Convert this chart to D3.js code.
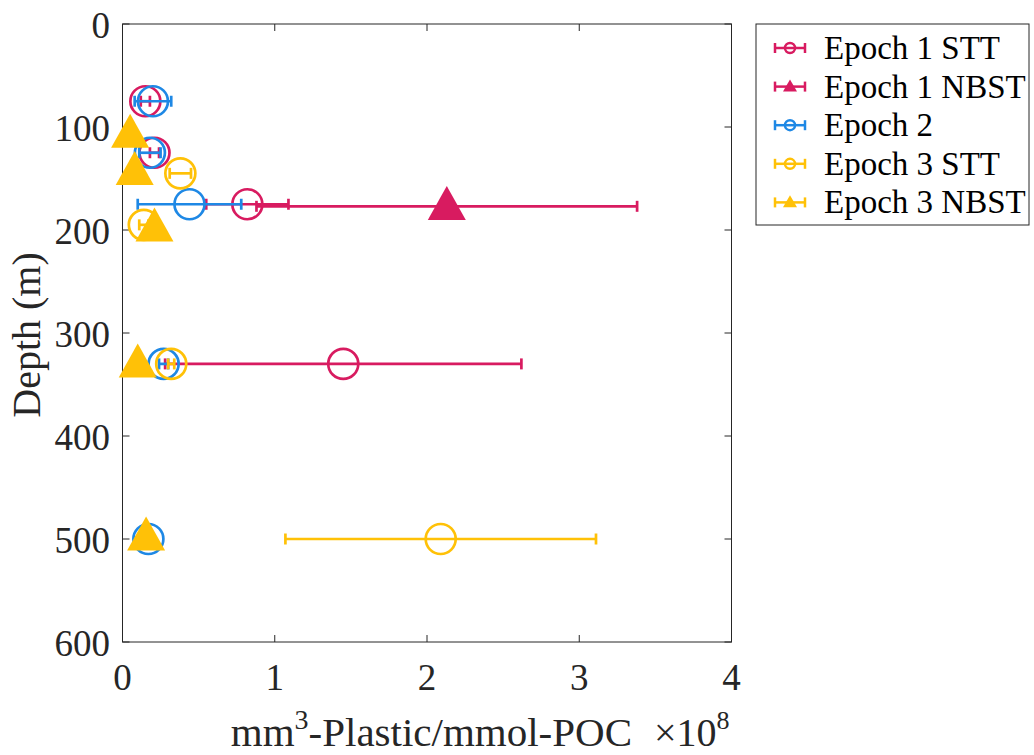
<!DOCTYPE html>
<html>
<head>
<meta charset="utf-8">
<script src="https://cdn.jsdelivr.net/npm/d3@7"></script>
<style>
  body { margin: 0; background: #fff; }
  svg { display: block; font-family: "Liberation Serif", "Times New Roman", serif; }
</style>
</head>
<body>
<svg width="1034" height="755"></svg>
<script>
// значения (x в единицах 1e8, глубина в м)
const seriesNames = ["Epoch 1 STT", "Epoch 1 NBST", "Epoch 2", "Epoch 3 STT", "Epoch 3 NBST"];
const seriesColors = ["#D81B60", "#D81B60", "#1E88E5", "#FFC107", "#FFC107"];
const seriesMarkers = ["circle", "triangle", "circle", "circle", "triangle"];

const e1sttDepth = [75, 125, 175, 330];
const e1sttValue = [0.15, 0.21, 0.82, 1.45];
const e1sttErr = [0.03, 0.03, 0.27, 1.17];

const e1nbstDepth = [177];
const e1nbstValue = [2.13];
const e1nbstErr = [1.25];

const e2Depth = [75, 125, 175, 330, 500];
const e2Value = [0.2, 0.18, 0.44, 0.27, 0.17];
const e2Err = [0.12, 0.07, 0.34, 0.03, 0.02];

const e3sttDepth = [145, 195, 330, 500];
const e3sttValue = [0.38, 0.14, 0.32, 2.09];
const e3sttErr = [0.07, 0.03, 0.02, 1.02];

const e3nbstDepth = [107, 143, 198, 330, 498];
const e3nbstValue = [0.05, 0.08, 0.21, 0.1, 0.155];
const e3nbstErr = [0.01, 0.01, 0.01, 0.01, 0.01];

const xTicks = [0, 1, 2, 3, 4];
const yTicks = [0, 100, 200, 300, 400, 500, 600];

const seriesData = [
    [e1sttDepth, e1sttValue, e1sttErr],
    [e1nbstDepth, e1nbstValue, e1nbstErr],
    [e2Depth, e2Value, e2Err],
    [e3sttDepth, e3sttValue, e3sttErr],
    [e3nbstDepth, e3nbstValue, e3nbstErr]
];

const svg = d3.select("svg");
svg.append("rect").attr("width", 1034).attr("height", 755).attr("fill", "#fff");

const padLeft = 122.5, padRight = 731.5, padTop = 24, padBottom = 642;
const axisColor = "#262626";
const tickFont = 37;

const x = d3.scaleLinear().domain([0, 4]).range([padLeft, padRight]);
const y = d3.scaleLinear().domain([0, 600]).range([padTop, padBottom]);

// треугольник: вершина выше точки, основание ниже
function trianglePath(w, h) {
    return `M0,${-0.6 * h}L${w / 2},${0.4 * h}L${-w / 2},${0.4 * h}Z`;
}

// тики внутрь, как в MATLAB
const tickLen = 7;
const axes = svg.append("g");
xTicks.forEach(t => {
    axes.append("line").attr("x1", x(t)).attr("x2", x(t)).attr("y1", padBottom).attr("y2", padBottom - tickLen);
    axes.append("line").attr("x1", x(t)).attr("x2", x(t)).attr("y1", padTop).attr("y2", padTop + tickLen);
    svg.append("text").attr("x", x(t)).attr("y", 690).attr("text-anchor", "middle")
        .attr("font-size", tickFont).attr("fill", axisColor).text(t);
});
yTicks.forEach(t => {
    axes.append("line").attr("x1", padLeft).attr("x2", padLeft + tickLen).attr("y1", y(t)).attr("y2", y(t));
    axes.append("line").attr("x1", padRight).attr("x2", padRight - tickLen).attr("y1", y(t)).attr("y2", y(t));
    svg.append("text").attr("x", 110).attr("y", y(t) + 14).attr("text-anchor", "end")
        .attr("font-size", tickFont).attr("fill", axisColor).text(t);
});
axes.selectAll("line").attr("stroke", axisColor).attr("stroke-width", 1);
axes.append("rect").attr("x", padLeft).attr("y", padTop).attr("width", padRight - padLeft).attr("height", padBottom - padTop)
    .attr("fill", "none").attr("stroke", axisColor).attr("stroke-width", 1);

// серии с планками погрешностей
const plot = svg.append("g");
seriesData.forEach((s, i) => {
    const [depth, val, err] = s;
    const color = seriesColors[i];
    const g = plot.append("g").attr("stroke", color).attr("stroke-width", 2.7).attr("fill", "none");
    depth.forEach((d, j) => {
        const yy = y(d);
        const x1 = x(val[j] - err[j]), x2 = x(val[j] + err[j]);
        g.append("line").attr("x1", x1).attr("x2", x2).attr("y1", yy).attr("y2", yy);
        g.append("line").attr("x1", x1).attr("x2", x1).attr("y1", yy - 5.5).attr("y2", yy + 5.5);
        g.append("line").attr("x1", x2).attr("x2", x2).attr("y1", yy - 5.5).attr("y2", yy + 5.5);
    });
    depth.forEach((d, j) => {
        if (seriesMarkers[i] == "circle") {
            g.append("circle").attr("cx", x(val[j])).attr("cy", y(d)).attr("r", 15);
        } else {
            g.append("path").attr("d", trianglePath(38, 34))
                .attr("transform", `translate(${x(val[j])},${y(d)})`)
                .attr("fill", color).attr("stroke", "none");
        }
    });
});

// подписи осей
svg.append("text").attr("x", 632).attr("y", 746).attr("text-anchor", "end")
    .attr("font-size", 41).attr("fill", axisColor)
    .html('mm<tspan dy="-17" font-size="28">3</tspan><tspan dy="17">-Plastic/mmol-POC</tspan>');
svg.append("text").attr("x", 654).attr("y", 746)
    .attr("font-size", 40).attr("fill", axisColor)
    .html('×10<tspan dy="-17" font-size="26">8</tspan>');
svg.append("text").attr("transform", "translate(40,335) rotate(-90)").attr("text-anchor", "middle")
    .attr("font-size", 40).attr("fill", axisColor).text("Depth (m)");

// легенда
const legend = svg.append("g");
legend.append("rect").attr("x", 756).attr("y", 24).attr("width", 273).attr("height", 201)
    .attr("fill", "#fff").attr("stroke", axisColor).attr("stroke-width", 1);
seriesNames.forEach((name, i) => {
    const ly = 48 + i * 38.6;
    const color = seriesColors[i];
    const g = legend.append("g").attr("stroke", color).attr("stroke-width", 2.5).attr("fill", "none");
    g.append("line").attr("x1", 775).attr("x2", 805).attr("y1", ly).attr("y2", ly);
    g.append("line").attr("x1", 775).attr("x2", 775).attr("y1", ly - 5).attr("y2", ly + 5);
    g.append("line").attr("x1", 805).attr("x2", 805).attr("y1", ly - 5).attr("y2", ly + 5);
    if (seriesMarkers[i] == "circle") {
        g.append("circle").attr("cx", 790).attr("cy", ly).attr("r", 5);
    } else {
        g.append("path").attr("d", trianglePath(14, 12)).attr("transform", `translate(790,${ly})`)
            .attr("fill", color).attr("stroke", "none");
    }
    legend.append("text").attr("x", 824).attr("y", ly + 11).attr("font-size", 33)
        .attr("fill", "#000").text(name);
});
</script>
</body>
</html>
